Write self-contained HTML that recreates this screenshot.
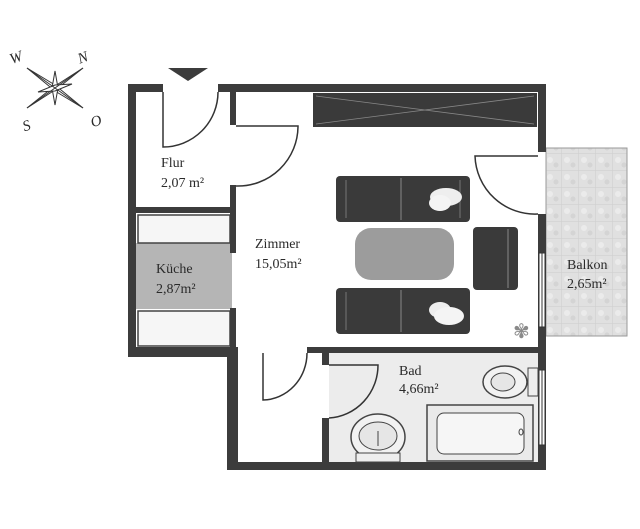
<!DOCTYPE html>
<html><head><meta charset="utf-8"><style>
html,body{margin:0;padding:0;background:#fff;}
svg{display:block;}
text{font-family:"Liberation Serif",serif;fill:#2a2a2a;}
</style></head><body>
<svg width="640" height="529" viewBox="0 0 640 529" xmlns="http://www.w3.org/2000/svg">
<defs>
<pattern id="tile" width="17" height="17" patternUnits="userSpaceOnUse">
<rect width="17" height="17" fill="#e0e0e0"/>
<path d="M0 0H17M0 0V17" stroke="#cdcdcd" stroke-width="1"/>
<circle cx="6" cy="7" r="3" fill="#ebebeb"/><circle cx="12" cy="12" r="2.5" fill="#d4d4d4"/>
</pattern>
</defs>
<rect x="546" y="148" width="81" height="188" fill="url(#tile)" stroke="#999"/>
<rect x="136" y="243" width="96" height="66" fill="#b5b5b5"/>
<rect x="329" y="353" width="209" height="109" fill="#ececec"/>
<rect x="138" y="215" width="92" height="28" fill="#f6f6f6" stroke="#444" stroke-width="1.5"/>
<rect x="138" y="311" width="92" height="35" fill="#f6f6f6" stroke="#444" stroke-width="1.5"/>
<g fill="#3c3c3c">
<rect x="128" y="84" width="35" height="8"/>
<rect x="218" y="84" width="328" height="8"/>
<rect x="128" y="84" width="8" height="273"/>
<rect x="538" y="84" width="8" height="68"/>
<rect x="538" y="214" width="8" height="256"/>
<rect x="128" y="347" width="107" height="10"/>
<rect x="227" y="347" width="11" height="123"/>
<rect x="227" y="462" width="319" height="8"/>
<rect x="307" y="347" width="231" height="6"/>
<rect x="230" y="92" width="6" height="33"/>
<rect x="230" y="185" width="6" height="68"/>
<rect x="230" y="308" width="6" height="45"/>
<rect x="136" y="207" width="100" height="6"/>
<rect x="322" y="353" width="7" height="12"/>
<rect x="322" y="418" width="7" height="44"/>
</g>
<rect x="539" y="253" width="6" height="74" fill="#fff" stroke="#333"/>
<line x1="542" y1="253" x2="542" y2="327" stroke="#333"/>
<rect x="539" y="370" width="6" height="75" fill="#fff" stroke="#333"/>
<line x1="542" y1="370" x2="542" y2="445" stroke="#333"/>
<polygon points="168,68 208,68 188,81" fill="#3c3c3c"/>
<g fill="none" stroke="#333" stroke-width="1.5">
<path d="M163 92V147A55 55 0 0 0 218 92"/>
<path d="M236 126H298A60 60 0 0 1 236 186"/>
<path d="M538 156H475A60 60 0 0 0 538 214"/>
<path d="M263 353V400A45 47 0 0 0 307 353"/>
<path d="M329 365H378A52 53 0 0 1 329 418"/>
</g>
<rect x="313" y="93" width="224" height="34" fill="#3a3a3a"/>
<path d="M316 96L534 124M316 124L534 96" stroke="#888" stroke-width="0.8"/>
<g>
<rect x="336" y="176" width="134" height="46" rx="4" fill="#3a3a3a"/>
<line x1="401" y1="178" x2="401" y2="220" stroke="#888"/>
<line x1="346" y1="180" x2="346" y2="218" stroke="#777"/>
<line x1="460" y1="180" x2="460" y2="218" stroke="#777"/>
<ellipse cx="446" cy="197" rx="16" ry="9" fill="#eee"/><ellipse cx="440" cy="203" rx="11" ry="8" fill="#f4f4f4"/>
<rect x="336" y="288" width="134" height="46" rx="4" fill="#3a3a3a"/>
<line x1="401" y1="290" x2="401" y2="332" stroke="#888"/>
<line x1="346" y1="292" x2="346" y2="330" stroke="#777"/>
<ellipse cx="440" cy="310" rx="11" ry="8" fill="#eee"/><ellipse cx="449" cy="316" rx="15" ry="9" fill="#f4f4f4"/>
<rect x="473" y="227" width="45" height="63" rx="4" fill="#3a3a3a"/>
<line x1="508" y1="229" x2="508" y2="288" stroke="#888"/>
<rect x="355" y="228" width="99" height="52" rx="16" fill="#9c9c9c"/>
</g>
<text x="513" y="338" font-size="20" style="fill:#8a8a8a">✾</text>
<ellipse cx="505" cy="382" rx="22" ry="16" fill="#f2f2f2" stroke="#444" stroke-width="1.5"/>
<ellipse cx="503" cy="382" rx="12" ry="9" fill="#e6e6e6" stroke="#444"/>
<rect x="528" y="368" width="10" height="28" fill="#eee" stroke="#444"/>
<rect x="427" y="405" width="106" height="56" fill="#eaeaea" stroke="#444" stroke-width="1.5"/>
<rect x="437" y="413" width="87" height="41" rx="7" fill="#f6f6f6" stroke="#444"/>
<ellipse cx="521" cy="432" rx="2" ry="3" fill="none" stroke="#444"/>
<ellipse cx="378" cy="437" rx="27" ry="23" fill="#f2f2f2" stroke="#444" stroke-width="1.5"/>
<ellipse cx="378" cy="436" rx="19" ry="14" fill="#e6e6e6" stroke="#444"/>
<line x1="378" y1="431" x2="378" y2="446" stroke="#444"/>
<rect x="356" y="453" width="44" height="9" fill="#eee" stroke="#444"/>
<g font-size="14">
<text x="161" y="167">Flur</text>
<text x="161" y="187">2,07 m²</text>
<text x="255" y="248">Zimmer</text>
<text x="255" y="268">15,05m²</text>
<text x="156" y="273">Küche</text>
<text x="156" y="293">2,87m²</text>
<text x="399" y="375">Bad</text>
<text x="399" y="393">4,66m²</text>
<text x="567" y="269">Balkon</text>
<text x="567" y="288">2,65m²</text>
</g>
<g transform="translate(55,88)" stroke="#333" stroke-width="1" fill="#fff">
<path d="M-28 -20L0 -3L28 20L0 3Z"/>
<path d="M28 -20L3 0L-28 20L-3 0Z"/>
<path d="M0 -17L3 0L0 17L-3 0Z"/>
<path d="M-17 4L0 -3L17 -4L0 3Z"/>
<line x1="-28" y1="-20" x2="28" y2="20"/><line x1="28" y1="-20" x2="-28" y2="20"/>
</g>
<g font-size="15" font-style="italic">
<text x="10" y="62" transform="rotate(-20 17 58)">W</text>
<text x="78" y="62" transform="rotate(-20 84 58)">N</text>
<text x="23" y="130" transform="rotate(-20 28 126)">S</text>
<text x="91" y="126" transform="rotate(-20 96 122)">O</text>
</g>
</svg>
</body></html>
